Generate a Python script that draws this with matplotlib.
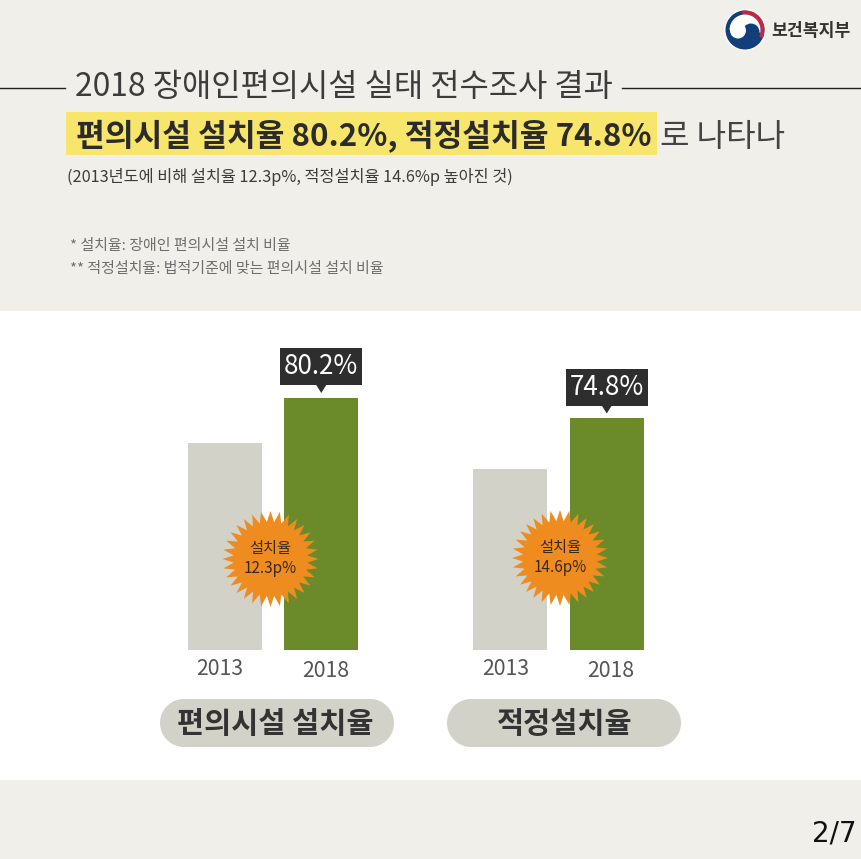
import numpy as np
import matplotlib
matplotlib.use("Agg")
import matplotlib.pyplot as plt
from matplotlib.patches import Rectangle, Polygon, Circle, Wedge

plt.rcParams['font.family'] = ['Noto Sans CJK KR', 'DejaVu Sans']

years = ['2013', '2018']
facility_rate = [67.9, 80.2]
proper_rate = [60.2, 74.8]
panel_names = ['편의시설 설치율', '적정설치율']
gain_labels = ['설치율\n12.3p%', '설치율\n14.6p%']
value_labels = ['80.2%', '74.8%']

BG, WHITE = '#f0efe9', '#ffffff'
GREY, GREEN = '#d2d2c8', '#6b8a29'
DARK, ORANGE = '#2e2e2e', '#ef8c1f'
BLUE, RED = '#123f7a', '#c8243f'

fig = plt.figure(figsize=(8.61, 8.59), dpi=100, facecolor=BG)
W, H = 861, 859
ov = fig.add_axes([0, 0, 1, 1], zorder=0)
ov.set_xlim(0, W); ov.set_ylim(H, 0); ov.axis('off')
top = fig.add_axes([0, 0, 1, 1], zorder=5)
top.set_xlim(0, W); top.set_ylim(H, 0); top.axis('off'); top.patch.set_alpha(0)

def fit(ax, s, x0, x1, y, color='#333333', weight='normal', zorder=6):
    """Place text with its ink spanning x0..x1 px, vertically centred on y."""
    t = ax.text(x0, y, s, color=color, fontweight=weight, fontsize=20, va='center', ha='left', zorder=zorder)
    r = fig.canvas.get_renderer()
    w = t.get_window_extent(r).width
    t.set_fontsize(20 * (x1 - x0) / w)
    return t

ov.add_patch(Rectangle((0, 311), W, 469, fc=WHITE, ec='none'))
ov.plot([0, 65], [87.5, 87.5], color='#222222', lw=1)
ov.plot([622, W], [87.5, 87.5], color='#222222', lw=1)
ov.add_patch(Rectangle((66, 112), 591, 43, fc='#f7e66b', ec='none'))

fit(ov, '2018 장애인편의시설 실태 전수조사 결과', 75, 613, 87, color='#3c3c3c')
fit(ov, '편의시설 설치율 80.2%, 적정설치율 74.8%', 76, 651, 137, color='#2b2b2b', weight='bold')
fit(ov, '로 나타나', 660, 785, 137, color='#444444')
fit(ov, '(2013년도에 비해 설치율 12.3p%, 적정설치율 14.6%p 높아진 것)', 67, 513, 176.5, color='#3c3c3c')
fit(ov, '* 설치율: 장애인 편의시설 설치 비율', 70, 291, 246, color='#6e6e6e')
fit(ov, '** 적정설치율: 법적기준에 맞는 편의시설 설치 비율', 70, 384, 269, color='#6e6e6e')
fit(ov, '보건복지부', 771, 850, 31, color='#333333', weight='bold')
ov.text(857, 834, '2/7', family='DejaVu Sans', fontsize=20, color='#111111', ha='right', va='center')

# logo
cx, cy, rr = 745, 30, 19.5
ov.add_patch(Circle((cx, cy), rr + 1.5, fc='#fbfaf6', ec='none'))
ov.add_patch(Circle((cx, cy), rr, fc=BLUE, ec='none'))
# the y axis of this overlay points down, so wedge angles run clockwise on screen
ov.add_patch(Wedge((cx, cy), rr, 260, 385, width=4, fc=RED, ec='none'))
ov.add_patch(Wedge((cx, cy), rr - 4, 180, 370, fc=WHITE, ec='none'))
ov.add_patch(Circle((cx + 6, cy + 2), 8.5, fc=BLUE, ec='none'))
ov.add_patch(Circle((cx - 7, cy + 0.5), 8, fc=WHITE, ec='none'))

def panel(values, x_center0, y_top2018, y_top2013, pill, name, name_x, star_c, gain, label, year_dx):
    base = 649.5
    scale = (y_top2013 - y_top2018) / (values[1] - values[0])
    y_min = values[1] - (base - y_top2018) / scale
    ax_top = 330
    y_max = y_min + (base - ax_top) / scale
    left = x_center0 - 48.25
    ax = fig.add_axes([left / W, 1 - base / H, 193 / W, (base - ax_top) / H], zorder=2)
    ax.patch.set_alpha(0); ax.axis('off')
    ax.set_xlim(-0.5, 1.5); ax.set_ylim(y_min, y_max)
    ax.bar([0, 1], values, width=0.762, color=[GREY, GREEN])
    # callout above the 2018 bar
    bx = x_center0 + 96.5
    yb = y_top2018
    top.add_patch(Rectangle((bx - 41, yb - 49.5), 82, 37, fc=DARK, ec='none', zorder=3))
    top.add_patch(Polygon([[bx - 5, yb - 12.5], [bx + 5, yb - 12.5], [bx, yb - 4.5]], fc=DARK, ec='none', zorder=3))
    top.text(bx, yb - 30.5, label, color='white', fontsize=18.7, ha='center', va='center', zorder=4)
    # year labels
    top.text(x_center0 + year_dx[0], 669, years[0], color='#555555', fontsize=15.3, ha='center', va='center')
    top.text(x_center0 + year_dx[1], 671, years[1], color='#555555', fontsize=15.3, ha='center', va='center')
    # pill
    x0, x1 = pill
    ang = np.linspace(-np.pi / 2, np.pi / 2, 40)
    xs = np.r_[x1 - 24 + 24 * np.cos(ang), x0 + 24 - 24 * np.cos(ang[::-1])]
    ys = np.r_[723 + 24 * np.sin(ang), 723 + 24 * np.sin(ang[::-1])]
    top.add_patch(Polygon(np.c_[xs, ys], fc=GREY, ec='none', zorder=1))
    top.text(name_x, 723.5, name, color='#333333', fontsize=21.2, fontweight='bold', ha='center', va='center')
    # burst
    n = 32
    th = np.linspace(0, 2 * np.pi, 2 * n, endpoint=False) - np.pi / 2
    rad = np.where(np.arange(2 * n) % 2 == 0, 48, 37)
    top.add_patch(Polygon(np.c_[star_c[0] + rad * np.cos(th), star_c[1] + rad * np.sin(th)], fc=ORANGE, ec='none', zorder=3))
    top.text(star_c[0], star_c[1] - 0.5, gain, color='#3a2a15', fontsize=11, ha='center', va='center', zorder=4, linespacing=1.25)

panel(facility_rate, 224.75, 397.5, 443, (160, 394), panel_names[0], 275, (270.5, 559), gain_labels[0], value_labels[0], (-4.75, 100.75))
panel(proper_rate, 510.25, 418, 469, (447, 681), panel_names[1], 565, (560, 558), gain_labels[1], value_labels[1], (-4.25, 101))

fig.savefig('out.png', dpi=100, facecolor=BG)
